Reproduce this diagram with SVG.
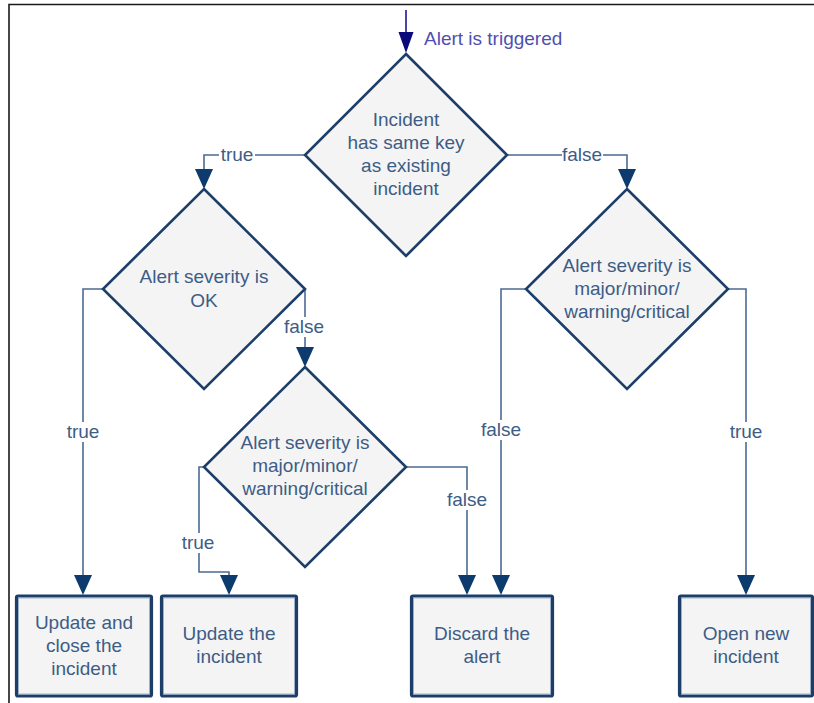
<svg xmlns="http://www.w3.org/2000/svg" width="814" height="703" viewBox="0 0 814 703">
  <style>
    .frame { fill: none; stroke: #1a1a1a; stroke-width: 1.6; }
    .dec { fill: #f4f4f4; stroke: #1c3e69; stroke-width: 2.6; stroke-linejoin: miter; }
    .box { fill: #f4f4f4; stroke: #1c3e69; stroke-width: 3.2; }
    .boxin { fill: none; stroke: #8fa3bd; stroke-width: 0.8; }
    .txt { font-family: "Liberation Sans", Arial, sans-serif; font-size: 19px; fill: #3d5d86; text-anchor: middle; }
    .lbl { font-family: "Liberation Sans", Arial, sans-serif; font-size: 19px; fill: #3d5d86; text-anchor: middle; }
    .start { font-family: "Liberation Sans", Arial, sans-serif; font-size: 19px; fill: #4f4fb0; }
    .wire { fill: none; stroke: #4b6b92; stroke-width: 1.6; }
    .startwire { fill: none; stroke: #1a1a8c; stroke-width: 1.6; }
    .bg { fill: #ffffff; }
    .head { fill: #0e3b6d; }
  </style>

  <!-- outer frame edges -->
  <path class="frame" d="M9,703 L9,4.5 L814,4.5"/>

  <!-- connectors -->
  <g id="connectors">
    <!-- entry arrow -->
    <line x1="406" y1="10" x2="406" y2="36" class="startwire"/>
    <path d="M398.5,32 L413.5,32 L406,53 Z" fill="#0a0a7a"/>

    <!-- top decision: true / false -->
    <path class="wire" d="M305,155 L204,155 L204,169"/>
    <path class="head" d="M195,169 L213,169 L204,189 Z"/>
    <path class="wire" d="M507,155 L627,155 L627,169"/>
    <path class="head" d="M618,169 L636,169 L627,189 Z"/>

    <!-- OK decision -->
    <path class="wire" d="M103,289 L83,289 L83,576"/>
    <path class="head" d="M74,575 L92,575 L83,595 Z"/>
    <path class="wire" d="M305,289 L305,347"/>
    <path class="head" d="M296,347 L314,347 L305,367 Z"/>

    <!-- lower left decision -->
    <path class="wire" d="M204,467 L199,467 L199,572 L229,572 L229,576"/>
    <path class="head" d="M220,575 L238,575 L229,595 Z"/>
    <path class="wire" d="M406,467 L467,467 L467,576"/>
    <path class="head" d="M458,575 L476,575 L467,595 Z"/>

    <!-- right decision -->
    <path class="wire" d="M526,289 L501,289 L501,576"/>
    <path class="head" d="M492,575 L510,575 L501,595 Z"/>
    <path class="wire" d="M728,289 L746,289 L746,576"/>
    <path class="head" d="M737,575 L755,575 L746,595 Z"/>

    <!-- branch labels -->
    <rect class="bg" x="219" y="145" width="36" height="20"/>
    <text class="lbl" x="237" y="161">true</text>
    <rect class="bg" x="562" y="145" width="41" height="20"/>
    <text class="lbl" x="582" y="161">false</text>
    <rect class="bg" x="283" y="317" width="42" height="20"/>
    <text class="lbl" x="304" y="333">false</text>
    <rect class="bg" x="65" y="422" width="36" height="20"/>
    <text class="lbl" x="83" y="438">true</text>
    <rect class="bg" x="181" y="533" width="36" height="20"/>
    <text class="lbl" x="198" y="549">true</text>
    <rect class="bg" x="446" y="490" width="42" height="20"/>
    <text class="lbl" x="467" y="506">false</text>
    <rect class="bg" x="480" y="420" width="42" height="20"/>
    <text class="lbl" x="501" y="436">false</text>
    <rect class="bg" x="728" y="422" width="36" height="20"/>
    <text class="lbl" x="746" y="438">true</text>
  </g>

  <!-- start label -->
  <g id="start">
    <text class="start" x="424" y="45">Alert is triggered</text>
  </g>

  <!-- decisions -->
  <g id="same-key">
    <path class="dec" d="M406,54 L507,155 L406,256 L305,155 Z"/>
    <text class="txt" x="406" y="126">Incident</text>
    <text class="txt" x="406" y="149">has same key</text>
    <text class="txt" x="406" y="172">as existing</text>
    <text class="txt" x="406" y="195">incident</text>
  </g>

  <g id="severity-ok">
    <path class="dec" d="M204,189 L305,289 L204,389 L103,289 Z"/>
    <text class="txt" x="204" y="283">Alert severity is</text>
    <text class="txt" x="204" y="307">OK</text>
  </g>

  <g id="severity-active-existing">
    <path class="dec" d="M305,367 L406,467 L305,567 L204,467 Z"/>
    <text class="txt" x="305" y="449">Alert severity is</text>
    <text class="txt" x="305" y="472">major/minor/</text>
    <text class="txt" x="305" y="495">warning/critical</text>
  </g>

  <g id="severity-active-new">
    <path class="dec" d="M627,189 L728,289 L627,389 L526,289 Z"/>
    <text class="txt" x="627" y="272">Alert severity is</text>
    <text class="txt" x="627" y="295">major/minor/</text>
    <text class="txt" x="627" y="318">warning/critical</text>
  </g>

  <!-- outcomes -->
  <g id="update-close">
    <rect class="box" x="16.5" y="596" width="135" height="100" rx="1.5"/>
    <rect class="boxin" x="18.5" y="598" width="131" height="96"/>
    <text class="txt" x="84" y="629">Update and</text>
    <text class="txt" x="84" y="652">close the</text>
    <text class="txt" x="84" y="675">incident</text>
  </g>

  <g id="update">
    <rect class="box" x="161.5" y="596" width="135" height="100" rx="1.5"/>
    <rect class="boxin" x="163.5" y="598" width="131" height="96"/>
    <text class="txt" x="229" y="640">Update the</text>
    <text class="txt" x="229" y="663">incident</text>
  </g>

  <g id="discard">
    <rect class="box" x="411.5" y="596" width="141" height="100" rx="1.5"/>
    <rect class="boxin" x="413.5" y="598" width="137" height="96"/>
    <text class="txt" x="482" y="640">Discard the</text>
    <text class="txt" x="482" y="663">alert</text>
  </g>

  <g id="open-new">
    <rect class="box" x="679.5" y="596" width="133" height="100" rx="1.5"/>
    <rect class="boxin" x="681.5" y="598" width="129" height="96"/>
    <text class="txt" x="746" y="640">Open new</text>
    <text class="txt" x="746" y="663">incident</text>
  </g>
</svg>
